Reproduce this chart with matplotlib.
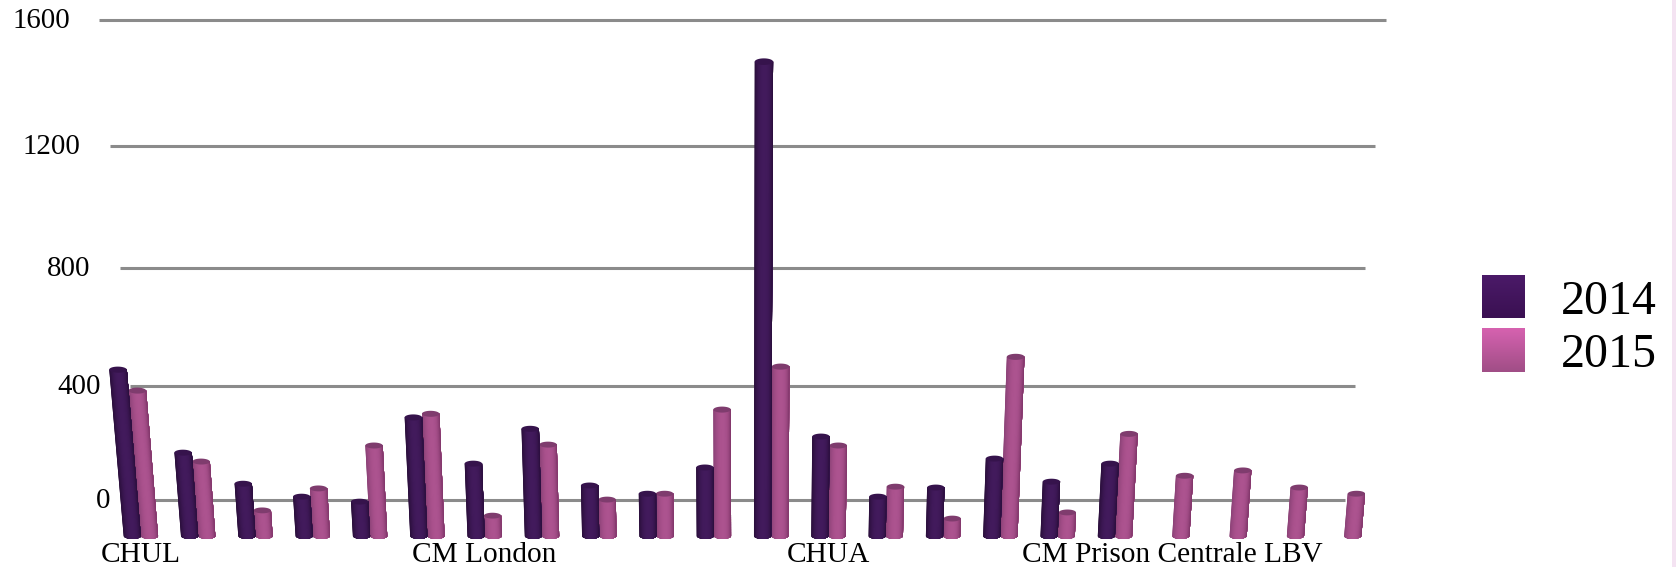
# Cylinder bars drawn with a small perspective transform on a plain axes
import numpy as np
import matplotlib
matplotlib.use('Agg')
import matplotlib.pyplot as plt
from matplotlib.collections import PolyCollection
from matplotlib.colors import to_rgb
from matplotlib.patches import Polygon
from matplotlib.transforms import Transform

plt.rcParams['font.family'] = ['Liberation Serif', 'DejaVu Serif']

# data
groups = np.arange(22)
values_2014 = [560, 284, 179, 135, 118, 402, 247, 364, 173, 145, 234, 1532, 338, 135, 166, 264, 186, 247,
               np.nan, np.nan, np.nan, np.nan]
values_2015 = [491, 254, 88, 163, 308, 414, 70, 311, 125, 145, 428, 570, 308, 169, 60, 602, 81, 347,
               206, 224, 166, 145]
y_ticks = [0, 400, 800, 1200, 1600]
x_tick_groups = [0, 6, 12, 18]
x_tick_labels = ['CHUL', 'CM London', 'CHUA', 'CM Prison Centrale LBV']
legend_labels = ['2014', '2015']


class Perspective(Transform):
    # (group, value) -> pixel position on a plane of the fake 3D box
    input_dims = 2
    output_dims = 2
    is_separable = False

    def __init__(self, plane_scale, base_y, stretch):
        super().__init__()
        self.plane_scale = plane_scale
        self.base_y = base_y
        self.stretch = stretch

    def transform_non_affine(self, points):
        points = np.asarray(points, dtype=float)
        group, value = points[:, 0], points[:, 1]
        h = self.stretch * (0.28 * value + 1.25e-5 * value * value)
        x = 742.5 + (group - 10.5) * 57.3 * self.plane_scale * (1 + 0.00014 * h)
        return np.column_stack([x, self.base_y - h])


W, H = 1676, 567
fig = plt.figure(figsize=(W / 100, H / 100), dpi=100)
ax = fig.add_axes([0, 0, 1, 1])
ax.axis('off')

wall = Perspective(0.956, 500, 1.0) + ax.transData
front = Perspective(1.0, 536, 1.035) + ax.transData

# back wall grid
for v in y_ticks:
    ax.plot([-0.5, 21.5], [v, v], color='#8b8b8b', lw=2.2, transform=wall, zorder=1,
            solid_capstyle='butt')
    ax.annotate(str(v), xy=(-0.5, v), xycoords=wall, xytext=(-29.5, -1.5), textcoords='offset pixels',
                ha='right', va='center', fontsize=20.8, color='black')


def shade(left, mid, right, t):
    left, mid, right = map(np.array, (to_rgb(left), to_rgb(mid), to_rgb(right)))
    if t < 0:
        return tuple(mid + (left - mid) * (-t) ** 2)
    return tuple(mid + (right - mid) * t ** 3)


def cylinder(slot, value, width, colors, top_color, z):
    if np.isnan(value):
        return
    r = width / 2
    e = 10.0  # ellipse half height, in value units
    angles = np.linspace(-np.pi / 2, np.pi / 2, 25)
    arc = np.linspace(np.pi / 2, -np.pi / 2, 25)
    polys, cols = [], []
    # each piece runs from its left side to the right rim, painted left to right, so no seams
    for a in angles[:-1]:
        keep = arc[arc >= a]
        bottom = [(slot + r * np.sin(t), -e * np.cos(t)) for t in keep[::-1]]
        polys.append(bottom + [(slot + r, value), (slot + r * np.sin(a), value)])
        cols.append(shade(*colors, np.sin(a + np.pi / 48)))
    ax.add_collection(PolyCollection(polys, facecolors=cols, edgecolors='none',
                                     transform=front, zorder=z), autolim=False)
    rim = np.linspace(0, 2 * np.pi, 40)
    ax.add_patch(Polygon(np.column_stack([slot + r * np.sin(rim), value + e * np.cos(rim)]),
                         closed=True, facecolor=top_color, edgecolor='none', transform=front, zorder=z + 0.1))


width = 0.30
dark = ('#2a0f3b', '#421a5c', '#2b0f3c')
pink = ('#8b4176', '#ac538f', '#7e3568')
for g, v14, v15 in zip(groups, values_2014, values_2015):
    cylinder(g - width / 2, v14, width, dark, '#36134c', 3)
    cylinder(g + width / 2, v15, width, pink, '#7f3c6e', 2)

for g, label in zip(x_tick_groups, x_tick_labels):
    ax.annotate(label, xy=(g, 0), xycoords=front, xytext=(0, -19), textcoords='offset pixels',
                ha='center', va='center', fontsize=21.2, color='black')

# legend, gradient swatches
swatches = [(275, 318, '#4b1a68', '#3a1052'), (328, 372, '#d662b0', '#a04e86')]
for (y0, y1, c0, c1), label in zip(swatches, legend_labels):
    ramp = np.linspace(to_rgb(c0), to_rgb(c1), 64).reshape(64, 1, 3)
    ax.imshow(ramp, extent=(1482, 1525, y1, y0), aspect='auto', zorder=2)
    ax.text(1561, (y0 + y1) / 2 + 5, label, ha='left', va='center', fontsize=34.5, color='black')

# faint strip on the right edge of the source image
ax.axvspan(1672, W, color='#f4e3f2', lw=0, zorder=0)

ax.set_xlim(0, W)
ax.set_ylim(H, 0)

plt.savefig('out.png', dpi=100)
